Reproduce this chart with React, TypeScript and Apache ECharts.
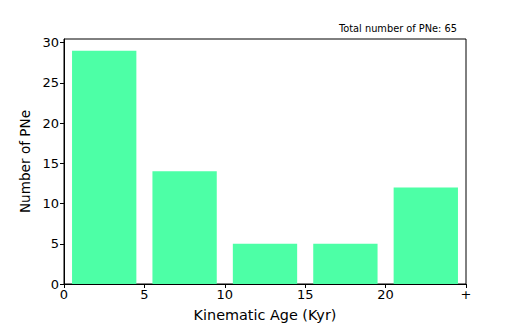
import React, { useEffect, useRef } from "react";
import * as echarts from "echarts";

const binStarts = [0, 5, 10, 15, 20];
const binEnds = [5, 10, 15, 20, 25];
const counts = [29, 14, 5, 5, 12];
const xTicks = ["0", "5", "10", "15", "20", "+"];
const yTicks = [0, 5, 10, 15, 20, 25, 30];
const totalLabel = "Total number of PNe: 65";

export default function App() {
  const ref = useRef<HTMLDivElement>(null);
  useEffect(() => {
    const chart = echarts.init(ref.current!, null, { renderer: "svg" });
    const font = "DejaVu Sans";
    const data = counts.map((c, i) => [binStarts[i], binEnds[i], c]);
    chart.setOption({
      animation: false,
      grid: {
        left: 64,
        right: 52,
        top: 39,
        bottom: 41,
        show: true,
        borderColor: "#000",
        borderWidth: 1,
        backgroundColor: "transparent",
      },
      title: {
        text: totalLabel,
        right: 56,
        top: 18,
        textStyle: { fontFamily: font, fontSize: 9.8, fontWeight: "normal", color: "#000" },
      },
      xAxis: {
        type: "value",
        min: 0,
        max: 25,
        interval: 5,
        name: "Kinematic Age (Kyr)",
        nameLocation: "middle",
        nameGap: 24,
        nameTextStyle: { fontFamily: font, fontSize: 14.4, color: "#000" },
        axisLine: { show: true, lineStyle: { color: "#000" } },
        axisTick: { show: true, inside: false, length: 4, lineStyle: { color: "#000" } },
        splitLine: { show: false },
        axisLabel: {
          fontFamily: font,
          fontSize: 13,
          color: "#000",
          margin: 4,
          formatter: (v: number) => xTicks[Math.round(v / 5)] ?? "",
        },
      },
      yAxis: {
        type: "value",
        min: 0,
        max: Math.max(...counts) * 1.05,
        name: "Number of PNe",
        nameLocation: "middle",
        nameGap: 31,
        nameTextStyle: { fontFamily: font, fontSize: 13.6, color: "#000" },
        axisLine: { show: true, lineStyle: { color: "#000" } },
        axisTick: {
          show: true,
          inside: false,
          length: 4,
          lineStyle: { color: "#000" },
          customValues: yTicks,
        },
        splitLine: { show: false },
        axisLabel: {
          fontFamily: font,
          fontSize: 13,
          color: "#000",
          margin: 5,
          customValues: yTicks,
          formatter: (v: number) => String(v),
        },
      },
      series: [
        {
          type: "custom",
          data,
          encode: { x: [0, 1], y: 2 },
          renderItem: (params: any, api: any) => {
            const s = api.value(0);
            const e = api.value(1);
            const w = e - s;
            const p0 = api.coord([s + 0.1 * w, api.value(2)]);
            const p1 = api.coord([e - 0.1 * w, 0]);
            return {
              type: "rect",
              shape: { x: p0[0], y: p0[1], width: p1[0] - p0[0], height: p1[1] - p0[1] },
              style: { fill: "#4dffa6" },
            };
          },
        },
      ],
    });
    return () => chart.dispose();
  }, []);
  return <div ref={ref} style={{ width: 518, height: 327, position: "absolute", left: 0, top: 0 }} />;
}
